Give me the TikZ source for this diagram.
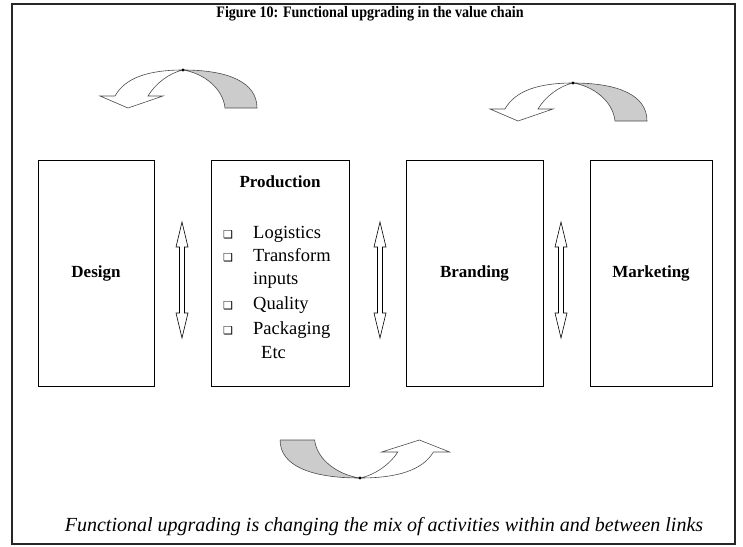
\documentclass[tikz,border=0pt]{standalone}
\usepackage{graphicx}
\usepackage{fontspec}
\setmainfont{Liberation Serif}
\newfontfamily\symfont{DejaVu Sans}

\tikzset{
  stage/.style={draw, line width=0.7pt, minimum height=226pt, inner sep=0pt},
  stagename/.style={font=\fontsize{17}{20}\selectfont\bfseries},
  listitem/.style={anchor=base west, inner sep=0pt, font=\fontsize{18.5}{22}\selectfont},
  bullet/.style={anchor=base, inner sep=0pt, font=\symfont\fontsize{11}{12}\selectfont},
  twistarrow/.pic={
    % shaded underside
    \filldraw[fill=gray!40, draw=black!70, line width=0.6pt]
      (42,38) -- (74,38) .. controls (74,12) and (45,0) .. (0,0)
      .. controls (20,3) and (40,18) .. (42,38) -- cycle;
    % open upper side with head
    \filldraw[fill=white, draw=black!70, line width=0.6pt]
      (0,0) .. controls (-35,0) and (-58,8) .. (-68,26)
      -- (-83,26) -- (-55,38) -- (-20,26) -- (-35,26)
      .. controls (-28,14) and (-14,3) .. (0,0) -- cycle;
    \fill (0,0) circle (1.6);
  },
  dblarrow/.pic={
    \draw[fill=white, line width=0.6pt]
      (-2.5,-33) -- (-6,-33) -- (0,-58) -- (6,-33) -- (2.5,-33)
      -- (2.5,33) -- (6,33) -- (0,58) -- (-6,33) -- (-2.5,33) -- cycle;
  }
}

\begin{document}
\begin{tikzpicture}[x=1pt, y=-1pt]
  \useasboundingbox (0,0) rectangle (743,546);

  % Frame
  \draw[line width=1.8pt, black!85] (12,4) rectangle (735,544);

  % Title and caption
  \node[font=\fontsize{16}{18}\selectfont\bfseries] (title) at (370,14)
    {\scalebox{0.88}[1]{Figure 10: Functional upgrading in the value chain}};
  \node[font=\fontsize{20}{22}\selectfont\itshape] (caption) at (384,527)
    {Functional upgrading is changing the mix of activities within and between links};

  % Stages of the chain
  \node[stage, minimum width=116pt] (design) at (96,273) {};
  \node[stage, minimum width=138pt] (prod) at (280,273) {};
  \node[stage, minimum width=137pt] (brand) at (474.5,273) {};
  \node[stage, minimum width=122pt] (market) at (651,273) {};

  \node[stagename] (designname) at (design.center) {Design};
  \node[stagename] (brandname) at (brand.center) {Branding};
  \node[stagename] (marketname) at (market.center) {Marketing};
  \node[stagename] (prodname) at (280,182) {Production};

  % Production activities
  \foreach \txt/\yy [count=\i] in {Logistics/238, Transform/261, Quality/309, Packaging/334}{
    \node[bullet] (bul\i) at (228,\yy) {❑};
    \node[listitem] (item\i) at (253,\yy) {\txt};
  }
  \node[listitem] (item5) at (253,284) {inputs};
  \node[listitem] (item6) at (261,358) {Etc};

  % Links between stages
  \pic at (182,280) {dblarrow};
  \pic at (380,280) {dblarrow};
  \pic at (561,280) {dblarrow};

  % Moves along the chain
  \pic at (183,70) {twistarrow};
  \pic at (573,83) {twistarrow};
  \pic[rotate=180, xscale=1.08] at (360,478) {twistarrow};
\end{tikzpicture}
\end{document}
